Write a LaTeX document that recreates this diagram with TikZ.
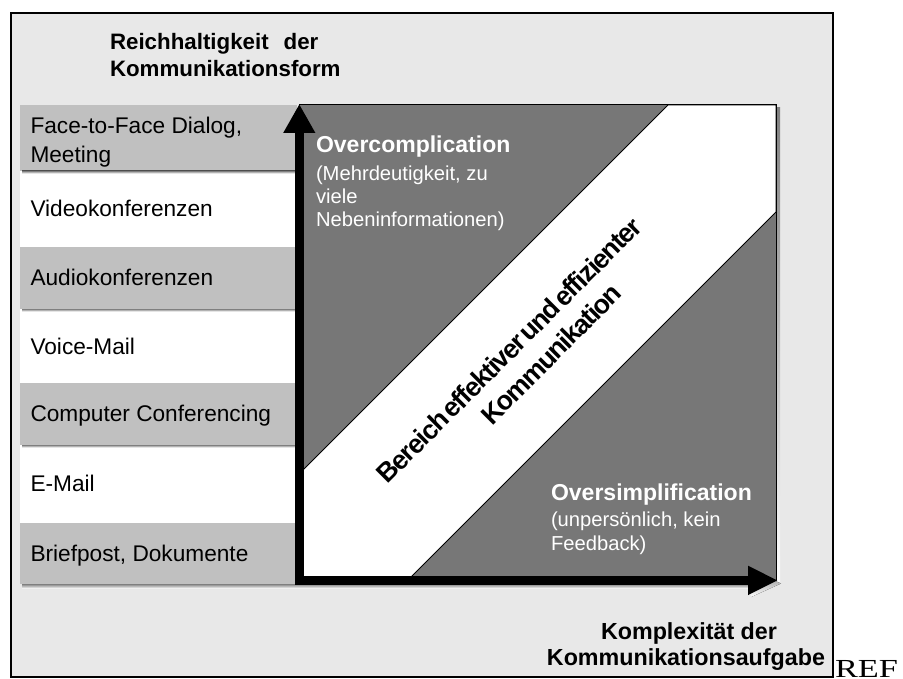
\documentclass[tikz,border=0pt]{standalone}
\usepackage{fontspec}
\setmainfont{Liberation Sans}
\newfontfamily\bandfont[LetterSpace=-5,WordSpace=0.35]{Liberation Sans}
\newfontfamily\reffont[FakeStretch=1.32]{Liberation Serif}
\usetikzlibrary{arrows.meta}

\definecolor{framebg}{HTML}{E8E8E8}
\definecolor{rowgray}{HTML}{C0C0C0}
\definecolor{darkzone}{HTML}{777777}
\definecolor{shade}{HTML}{808080}

\tikzset{
  every node/.style={inner sep=0pt, outer sep=0pt},
  heading/.style={anchor=base west, font=\bfseries\fontsize{12.7}{15}\selectfont},
  xheading/.style={anchor=base, font=\bfseries\fontsize{13.25}{15}\selectfont},
  rowlabel/.style={anchor=base west, font=\fontsize{12.9}{15}\selectfont},
  zonetitle/.style={anchor=base west, text=white, font=\bfseries\fontsize{13.1}{15}\selectfont},
  zonenote/.style={anchor=base west, text=white, font=\fontsize{11.5}{14}\selectfont},
  bandtext/.style={rotate=45, font=\bandfont\bfseries\fontsize{15.2}{17}\selectfont},
  thinline/.style={line width=0.02cm},
}

\begin{document}
\begin{tikzpicture}[x=0.02cm, y=-0.02cm]
\useasboundingbox (0,0) rectangle (903,679);

% outer frame
\draw[line width=0.03cm, fill=framebg] (11,13) rectangle (833,677);

% media rows (alternating grey / white)
\fill[rowgray] (20,105) rectangle (297,171);
\fill[white]   (20,171) rectangle (297,247);
\fill[rowgray] (20,247) rectangle (297,309);
\fill[white]   (20,309) rectangle (297,383);
\fill[rowgray] (20,383) rectangle (297,445);
\fill[white]   (20,445) rectangle (297,523);
\fill[rowgray] (20,523) rectangle (297,584);
% row shadows
\fill[shade] (22,171) rectangle (297,173.5);
\fill[shade] (22,309) rectangle (297,311.5);
\fill[shade] (22,445) rectangle (297,447.5);
\fill[shade] (22,584) rectangle (752,588.5);

% row labels
\node[rowlabel] (m1a) at (30.5,133) {Face-to-Face Dialog,};
\node[rowlabel] (m1b) at (30.5,163) {Meeting};
\node[rowlabel] (m2) at (30.5,216.5) {Videokonferenzen};
\node[rowlabel] (m3) at (30.5,285) {Audiokonferenzen};
\node[rowlabel] (m4) at (30.5,354.5) {Voice-Mail};
\node[rowlabel] (m5) at (30.5,421.5) {Computer Conferencing};
\node[rowlabel] (m6) at (30.5,491.5) {E-Mail};
\node[rowlabel] (m7) at (30.5,561.5) {Briefpost, Dokumente};

% plot field with shadow
\fill[shade] (303,108) rectangle (780,583);
\fill[darkzone] (299,105) rectangle (776,580);
\filldraw[fill=white, draw=black, thinline]
  (668,105) -- (776,105) -- (776,212) -- (408,580) -- (299,580) -- (299,474) -- cycle;
\draw[thinline] (299,105) -- (776,105) -- (776,580);

% axes
\coordinate (origin) at (299.3,580.4);
\coordinate (ytip) at (299.3,104);
\coordinate (xtip) at (778,580.4);
\fill[shade] (751,570) -- (781,583.5) -- (751,597) -- cycle;
\draw[line width=0.18cm, line join=miter,
      {Triangle[length=0.58cm,width=0.6cm]}-{Triangle[length=0.6cm,width=0.54cm]}]
  (ytip) -- (origin) -- (xtip);

% axis headings
\node[heading] (ylab1) at (110,50) {Reichhaltigkeit\hspace{0.3cm}der};
\node[heading] (ylab2) at (110,77) {Kommunikationsform};
\node[xheading] (xlab1) at (689,639.3) {Komplexität der};
\node[xheading] (xlab2) at (686,665.7) {Kommunikationsaufgabe};

% zone descriptions
\node[zonetitle] (oc) at (316,153) {Overcomplication};
\node[zonenote] (oc1) at (316,180) {(Mehrdeutigkeit, zu};
\node[zonenote] (oc2) at (316,203.3) {viele};
\node[zonenote] (oc3) at (316,226.7) {Nebeninformationen)};

\node[zonetitle] (os) at (551,500) {Oversimplification};
\node[zonenote] (os1) at (551,526.7) {(unpersönlich, kein};
\node[zonenote] (os2) at (551,550) {Feedback)};

% diagonal band label
\node[bandtext] (band1) at (509,350) {Bereich effektiver und effizienter};
\node[bandtext] (band2) at (551,354) {Kommunikation};

\node[anchor=base west, font=\reffont\fontsize{14.8}{18}\selectfont] (ref) at (835,677) {REF};
\end{tikzpicture}
\end{document}
